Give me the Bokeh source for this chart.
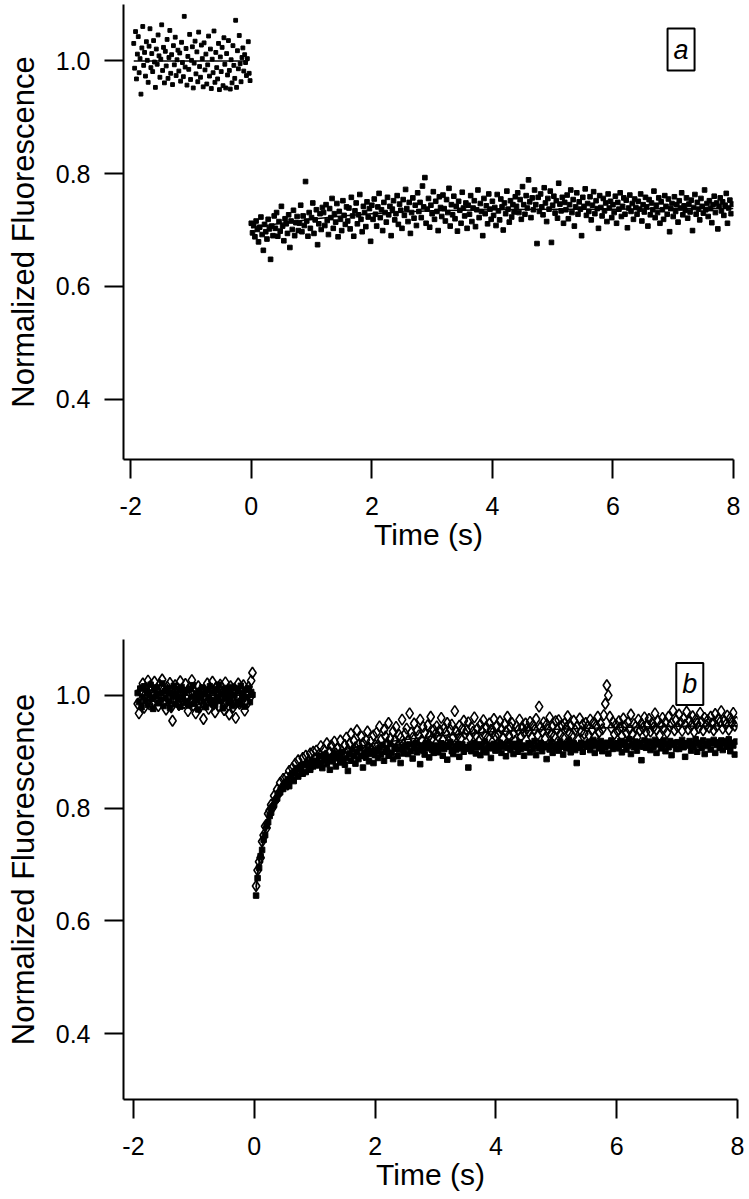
import numpy as np
from bokeh.plotting import figure
from bokeh.layouts import column
from bokeh.models import Range1d, FixedTicker, PrintfTickFormatter, Label
from bokeh.embed import file_html
from bokeh.resources import INLINE

# ---------------- data ----------------
# Panel a: pre-bleach samples (time window -1.95 .. -0.02 s)
a_pre_window = [-1.95, -0.02]
a_pre_y = [
    1.031, 0.987, 1.052, 0.968, 1.012, 1.043, 0.979, 1.004, 0.941, 1.023,
    1.061, 0.992, 1.015, 0.973, 1.034, 1.001, 0.962, 1.026, 1.057, 0.988,
    1.013, 0.981, 1.036, 0.998, 0.953, 1.021, 0.994, 1.046, 1.009, 0.971,
    1.003, 1.064, 0.983, 1.024, 0.961, 1.017, 0.991, 1.038, 0.969, 1.006,
    1.054, 0.978, 1.011, 0.958, 1.027, 0.993, 1.042, 0.974, 1.002, 1.019,
    0.982, 1.014, 0.964, 1.033, 0.997, 0.972, 1.079, 0.989, 1.022, 0.957,
    1.008, 0.985, 1.047, 0.967, 1.001, 1.025, 0.952, 0.996, 1.035, 0.977,
    1.016, 0.963, 1.051, 0.990, 0.971, 1.028, 1.004, 0.954, 1.032, 0.984,
    1.012, 0.959, 0.993, 1.044, 0.973, 1.021, 0.951, 1.003, 0.979, 1.053,
    0.962, 1.015, 0.988, 0.968, 1.031, 0.949, 1.007, 0.981, 1.024, 0.956,
    1.041, 0.994, 0.952, 1.013, 0.975, 1.036, 0.983, 0.950, 1.002, 0.961,
    1.027, 0.992, 0.969, 1.072, 0.953, 1.018, 0.986, 1.045, 0.995, 0.963,
    1.006, 1.023, 0.982, 1.011, 0.997, 0.974, 1.004, 1.034, 0.978, 0.965,
]
# Panel a: post-bleach samples (time window 0.0 .. 7.98 s)
a_post_window = [0.0, 7.98]
a_post_y = [
    0.712, 0.695, 0.708, 0.688, 0.716, 0.701, 0.679, 0.705, 0.723, 0.692, 0.664, 0.710, 0.697, 0.684, 0.719, 0.702, 0.648, 0.707, 0.690, 0.725,
    0.703, 0.731, 0.689, 0.715, 0.698, 0.742, 0.707, 0.681, 0.720, 0.711, 0.694, 0.727, 0.669, 0.716, 0.701, 0.735, 0.690, 0.713, 0.724, 0.699,
    0.712, 0.744, 0.697, 0.725, 0.708, 0.786, 0.716, 0.689, 0.731, 0.703, 0.722, 0.748, 0.694, 0.718, 0.736, 0.674, 0.711, 0.729, 0.701, 0.740,
    0.731, 0.708, 0.745, 0.717, 0.692, 0.738, 0.722, 0.756, 0.703, 0.729, 0.714, 0.747, 0.688, 0.733, 0.719, 0.699, 0.752, 0.726, 0.710, 0.741,
    0.716, 0.739, 0.702, 0.758, 0.725, 0.689, 0.734, 0.748, 0.711, 0.727, 0.763, 0.719, 0.697, 0.742, 0.731, 0.706, 0.750, 0.723, 0.738, 0.680,
    0.744, 0.719, 0.755, 0.728, 0.707, 0.741, 0.765, 0.722, 0.736, 0.699, 0.749, 0.731, 0.714, 0.758, 0.727, 0.742, 0.690, 0.737, 0.752, 0.718,
    0.729, 0.761, 0.710, 0.746, 0.735, 0.703, 0.754, 0.726, 0.772, 0.738, 0.715, 0.749, 0.694, 0.731, 0.757, 0.721, 0.744, 0.708, 0.766, 0.733,
    0.749, 0.722, 0.778, 0.741, 0.793, 0.712, 0.737, 0.756, 0.705, 0.744, 0.729, 0.768, 0.719, 0.751, 0.733, 0.699, 0.759, 0.740, 0.724, 0.762,
    0.738, 0.716, 0.754, 0.731, 0.774, 0.707, 0.745, 0.727, 0.760, 0.720, 0.742, 0.698, 0.751, 0.735, 0.712, 0.767, 0.739, 0.725, 0.748, 0.703,
    0.744, 0.728, 0.761, 0.715, 0.739, 0.752, 0.706, 0.736, 0.771, 0.722, 0.747, 0.733, 0.690, 0.756, 0.729, 0.743, 0.711, 0.764, 0.737, 0.719,
    0.751, 0.726, 0.740, 0.708, 0.763, 0.734, 0.718, 0.755, 0.741, 0.700, 0.748, 0.729, 0.769, 0.737, 0.714, 0.752, 0.723, 0.745, 0.732, 0.759,
    0.742, 0.766, 0.731, 0.754, 0.719, 0.777, 0.745, 0.728, 0.761, 0.739, 0.789, 0.750, 0.722, 0.757, 0.736, 0.771, 0.745, 0.676, 0.758, 0.733,
    0.764, 0.741, 0.727, 0.775, 0.748, 0.715, 0.756, 0.737, 0.769, 0.678, 0.744, 0.760, 0.730, 0.752, 0.721, 0.783, 0.746, 0.734, 0.758, 0.712,
    0.749, 0.736, 0.762, 0.720, 0.745, 0.771, 0.731, 0.754, 0.707, 0.741, 0.766, 0.728, 0.750, 0.737, 0.690, 0.758, 0.742, 0.773, 0.726, 0.747,
    0.733, 0.759, 0.718, 0.744, 0.768, 0.729, 0.752, 0.738, 0.703, 0.761, 0.740, 0.725, 0.756, 0.734, 0.748, 0.715, 0.764, 0.739, 0.751, 0.722,
    0.745, 0.731, 0.760, 0.712, 0.749, 0.737, 0.766, 0.724, 0.742, 0.757, 0.728, 0.753, 0.704, 0.739, 0.762, 0.733, 0.747, 0.719, 0.755, 0.740,
    0.728, 0.751, 0.737, 0.764, 0.716, 0.745, 0.732, 0.758, 0.741, 0.707, 0.754, 0.727, 0.748, 0.736, 0.769, 0.722, 0.744, 0.731, 0.757, 0.712,
    0.750, 0.736, 0.719, 0.761, 0.742, 0.728, 0.755, 0.697, 0.738, 0.747, 0.724, 0.759, 0.733, 0.745, 0.714, 0.752, 0.739, 0.766, 0.727, 0.743,
    0.735, 0.757, 0.721, 0.746, 0.732, 0.753, 0.699, 0.740, 0.763, 0.728, 0.749, 0.737, 0.718, 0.756, 0.742, 0.730, 0.771, 0.736, 0.747, 0.724,
    0.752, 0.738, 0.713, 0.745, 0.760, 0.731, 0.748, 0.702, 0.742, 0.757, 0.734, 0.750, 0.726, 0.744, 0.765, 0.712, 0.739, 0.753, 0.729, 0.746,
]
# Panel a fits
a_fit_pre_t = [-1.95, -0.05]
a_fit_pre_y = [1.0, 1.0]
a_fit_post_t = [0.0, 0.5, 1.0, 1.5, 2.0, 2.5, 3.0, 4.0, 5.0, 6.0, 7.0, 8.0]
a_fit_post_y = [0.704, 0.712, 0.719, 0.725, 0.729, 0.732, 0.734, 0.736, 0.737, 0.737, 0.738, 0.738]

# Panel b: pre-bleach (time window -1.93 .. -0.03 s)
b_pre_window = [-1.93, -0.03]
b_pre_diamond_y = [
    0.985, 0.968, 1.008, 0.992, 1.021, 0.978, 1.013, 0.996, 1.026, 0.984,
    1.017, 1.002, 0.989, 1.024, 0.995, 1.010, 0.981, 1.019, 0.999, 1.028,
    0.987, 1.006, 0.975, 1.015, 0.993, 1.022, 0.979, 0.955, 1.004, 1.018,
    0.990, 1.011, 0.983, 1.025, 0.997, 1.007, 0.986, 1.020, 0.994, 0.972,
    1.013, 0.991, 1.027, 0.982, 1.005, 0.968, 0.996, 1.016, 0.978, 1.009,
    0.987, 0.958, 1.001, 0.993, 1.021, 0.976, 1.011, 0.989, 1.024, 0.984,
    0.970, 1.014, 0.997, 0.981, 1.019, 0.992, 1.006, 0.974, 1.023, 0.988,
    1.003, 0.966, 1.016, 0.995, 0.979, 1.012, 0.960, 0.999, 1.021, 0.985,
    1.008, 0.991, 1.018, 0.973, 1.004, 0.986, 1.015, 0.996, 1.026, 1.040,
]
b_pre_square_y = [
    1.004, 0.988, 1.012, 0.979, 0.997, 1.016, 0.991, 1.008, 0.983, 1.001,
    1.019, 0.994, 0.976, 1.010, 0.998, 1.014, 0.986, 1.003, 0.992, 1.021,
    0.981, 1.007, 0.995, 1.013, 0.989, 0.978, 1.006, 0.999, 1.017, 0.984,
    1.002, 0.993, 1.011, 0.980, 1.015, 0.996, 1.005, 0.987, 1.009, 0.990,
    0.982, 1.012, 0.997, 1.018, 0.985, 1.004, 0.994, 0.975, 1.008, 0.999,
    1.014, 0.988, 1.002, 0.979, 1.010, 0.995, 1.016, 0.986, 1.006, 0.991,
    0.983, 1.011, 0.998, 1.019, 0.990, 1.003, 0.977, 1.009, 0.996, 1.013,
    0.987, 1.005, 0.993, 1.015, 0.981, 1.000, 1.012, 0.989, 1.007, 0.984,
    1.017, 0.994, 1.004, 0.980, 1.010, 0.997, 1.013, 0.988, 1.006, 1.001,
]
# Panel b: post-bleach (time window 0.03 .. 7.98 s)
b_post_window = [0.03, 7.98]
b_post_diamond_y = [
    0.662, 0.690, 0.705, 0.712, 0.741, 0.752, 0.768, 0.765, 0.790, 0.796, 0.806, 0.801, 0.822, 0.815, 0.833, 0.826, 0.845, 0.836, 0.852, 0.841,
    0.855, 0.842, 0.866, 0.852, 0.871, 0.858, 0.879, 0.862, 0.885, 0.868, 0.874, 0.889, 0.870, 0.893, 0.878, 0.884, 0.897, 0.876, 0.900, 0.887,
    0.902, 0.881, 0.896, 0.910, 0.888, 0.904, 0.893, 0.915, 0.886, 0.899, 0.911, 0.892, 0.918, 0.897, 0.905, 0.889, 0.920, 0.901, 0.894, 0.912,
    0.925, 0.903, 0.914, 0.932, 0.897, 0.919, 0.908, 0.938, 0.912, 0.901, 0.927, 0.915, 0.894, 0.921, 0.936, 0.907, 0.918, 0.903, 0.929, 0.912,
    0.934, 0.912, 0.945, 0.921, 0.903, 0.939, 0.927, 0.915, 0.951, 0.923, 0.908, 0.936, 0.919, 0.944, 0.910, 0.930, 0.925, 0.957, 0.913, 0.932,
    0.941, 0.919, 0.968, 0.934, 0.925, 0.950, 0.912, 0.938, 0.929, 0.957, 0.921, 0.944, 0.933, 0.916, 0.947, 0.928, 0.962, 0.924, 0.939, 0.931,
    0.945, 0.927, 0.938, 0.960, 0.921, 0.942, 0.934, 0.951, 0.918, 0.939, 0.948, 0.926, 0.972, 0.936, 0.929, 0.946, 0.923, 0.941, 0.955, 0.932,
    0.938, 0.952, 0.926, 0.944, 0.935, 0.961, 0.929, 0.941, 0.919, 0.948, 0.937, 0.956, 0.930, 0.943, 0.925, 0.950, 0.939, 0.933, 0.958, 0.928,
    0.946, 0.931, 0.954, 0.940, 0.924, 0.949, 0.936, 0.962, 0.929, 0.943, 0.951, 0.933, 0.919, 0.945, 0.938, 0.957, 0.927, 0.942, 0.934, 0.950,
    0.941, 0.935, 0.953, 0.926, 0.947, 0.939, 0.958, 0.930, 0.980, 0.944, 0.936, 0.952, 0.923, 0.948, 0.940, 0.961, 0.932, 0.945, 0.928, 0.954,
    0.939, 0.956, 0.931, 0.947, 0.925, 0.950, 0.942, 0.963, 0.934, 0.946, 0.929, 0.955, 0.938, 0.944, 0.921, 0.959, 0.936, 0.948, 0.932, 0.951,
    0.944, 0.930, 0.957, 0.938, 0.951, 0.926, 0.946, 0.962, 0.935, 0.949, 0.940, 0.965, 0.985, 1.018, 1.000, 0.962, 0.942, 0.953, 0.931, 0.948,
    0.937, 0.954, 0.943, 0.928, 0.959, 0.946, 0.933, 0.952, 0.940, 0.966, 0.931, 0.949, 0.944, 0.925, 0.957, 0.938, 0.950, 0.942, 0.961, 0.935,
    0.947, 0.958, 0.936, 0.951, 0.943, 0.968, 0.939, 0.955, 0.929, 0.948, 0.960, 0.941, 0.953, 0.934, 0.962, 0.945, 0.950, 0.973, 0.938, 0.956,
    0.944, 0.966, 0.952, 0.937, 0.959, 0.948, 0.971, 0.940, 0.955, 0.946, 0.963, 0.935, 0.957, 0.950, 0.942, 0.969, 0.953, 0.938, 0.960, 0.947,
    0.956, 0.943, 0.962, 0.950, 0.938, 0.967, 0.945, 0.958, 0.952, 0.972, 0.941, 0.955, 0.948, 0.964, 0.939, 0.960, 0.951, 0.969, 0.946, 0.953,
]
b_post_square_y = [
    0.645, 0.676, 0.694, 0.715, 0.726, 0.744, 0.752, 0.769, 0.775, 0.786, 0.792, 0.803, 0.806, 0.814, 0.817, 0.826, 0.828, 0.835, 0.834, 0.842,
    0.846, 0.851, 0.839, 0.858, 0.862, 0.848, 0.866, 0.871, 0.856, 0.869, 0.875, 0.861, 0.878, 0.864, 0.880, 0.872, 0.868, 0.884, 0.874, 0.879,
    0.884, 0.876, 0.893, 0.880, 0.871, 0.889, 0.895, 0.878, 0.886, 0.868, 0.891, 0.883, 0.897, 0.874, 0.889, 0.893, 0.881, 0.899, 0.886, 0.877,
    0.889, 0.866, 0.897, 0.884, 0.903, 0.892, 0.879, 0.899, 0.887, 0.906, 0.893, 0.872, 0.898, 0.890, 0.905, 0.883, 0.896, 0.901, 0.880, 0.894,
    0.902, 0.889, 0.907, 0.895, 0.911, 0.884, 0.900, 0.906, 0.893, 0.914, 0.898, 0.887, 0.905, 0.909, 0.892, 0.903, 0.880, 0.908, 0.897, 0.912,
    0.909, 0.896, 0.913, 0.901, 0.888, 0.907, 0.915, 0.899, 0.904, 0.878, 0.911, 0.902, 0.895, 0.916, 0.906, 0.890, 0.912, 0.903, 0.898, 0.909,
    0.911, 0.899, 0.907, 0.915, 0.893, 0.905, 0.912, 0.886, 0.909, 0.917, 0.901, 0.896, 0.910, 0.904, 0.914, 0.891, 0.906, 0.913, 0.900, 0.908,
    0.905, 0.872, 0.912, 0.901, 0.909, 0.916, 0.897, 0.908, 0.913, 0.894, 0.910, 0.903, 0.918, 0.899, 0.907, 0.912, 0.889, 0.906, 0.914, 0.902,
    0.911, 0.904, 0.916, 0.898, 0.909, 0.913, 0.892, 0.907, 0.918, 0.903, 0.910, 0.896, 0.914, 0.908, 0.900, 0.917, 0.905, 0.911, 0.893, 0.909,
    0.907, 0.915, 0.899, 0.912, 0.905, 0.919, 0.894, 0.910, 0.906, 0.916, 0.901, 0.913, 0.908, 0.887, 0.911, 0.904, 0.917, 0.898, 0.910, 0.906,
    0.913, 0.902, 0.918, 0.909, 0.895, 0.914, 0.906, 0.911, 0.920, 0.899, 0.908, 0.915, 0.903, 0.880, 0.912, 0.907, 0.916, 0.900, 0.910, 0.914,
    0.909, 0.917, 0.903, 0.912, 0.921, 0.898, 0.910, 0.915, 0.906, 0.919, 0.901, 0.913, 0.908, 0.916, 0.897, 0.911, 0.920, 0.905, 0.914, 0.909,
    0.915, 0.906, 0.919, 0.899, 0.912, 0.917, 0.904, 0.910, 0.922, 0.896, 0.913, 0.908, 0.918, 0.902, 0.911, 0.916, 0.885, 0.909, 0.920, 0.907,
    0.912, 0.918, 0.903, 0.915, 0.909, 0.921, 0.898, 0.913, 0.917, 0.906, 0.911, 0.920, 0.901, 0.914, 0.908, 0.919, 0.894, 0.912, 0.916, 0.905,
    0.917, 0.905, 0.913, 0.921, 0.908, 0.891, 0.915, 0.911, 0.919, 0.902, 0.914, 0.909, 0.922, 0.900, 0.916, 0.912, 0.907, 0.920, 0.896, 0.913,
    0.910, 0.918, 0.904, 0.915, 0.921, 0.898, 0.912, 0.917, 0.907, 0.920, 0.903, 0.914, 0.919, 0.909, 0.922, 0.901, 0.916, 0.911, 0.895, 0.918,
]
# Panel b fits
b_fit_pre_t = [-1.93, -0.03]
b_fit_pre_y = [1.0, 1.0]
b_fit_t = [0.03, 0.05, 0.1, 0.15, 0.2, 0.3, 0.4, 0.5, 0.7, 1.0, 1.5, 2.0, 3.0, 4.0, 5.0, 6.0, 7.0, 8.0]
b_fit_diamond_y = [0.660, 0.683, 0.717, 0.745, 0.768, 0.803, 0.827, 0.845, 0.867, 0.886, 0.904, 0.915, 0.928, 0.936, 0.940, 0.943, 0.945, 0.946]
b_fit_square_y = [0.655, 0.678, 0.713, 0.741, 0.763, 0.797, 0.820, 0.838, 0.858, 0.876, 0.891, 0.899, 0.906, 0.909, 0.911, 0.913, 0.914, 0.915]

x_ticks = [-2, 0, 2, 4, 6, 8]
y_ticks = [0.4, 0.6, 0.8, 1.0]
x_label = "Time (s)"
y_label = "Normalized Fluorescence"
panel_tags = ["a", "b"]

FONT = "Liberation Sans"


def times(window, values):
    return np.linspace(window[0], window[1], len(values))


def style(p):
    p.xgrid.visible = False
    p.ygrid.visible = False
    p.outline_line_color = None
    p.background_fill_color = "white"
    p.border_fill_color = "white"
    p.xaxis.ticker = FixedTicker(ticks=x_ticks)
    p.yaxis.ticker = FixedTicker(ticks=y_ticks)
    p.xaxis.formatter = PrintfTickFormatter(format="%d")
    p.yaxis.formatter = PrintfTickFormatter(format="%.1f")
    for ax in (p.xaxis[0], p.yaxis[0]):
        ax.axis_line_width = 2
        ax.axis_line_color = "black"
        ax.major_tick_line_width = 2
        ax.major_tick_line_color = "black"
        ax.major_tick_in = 0
        ax.major_tick_out = 19
        ax.minor_tick_line_color = None
        ax.major_label_text_font = FONT
        ax.major_label_text_font_size = "25px"
        ax.major_label_text_color = "black"
        ax.axis_label_text_font = FONT
        ax.axis_label_text_font_style = "normal"
        ax.axis_label_text_color = "black"
    p.xaxis.axis_label = x_label
    p.yaxis.axis_label = y_label
    p.xaxis.axis_label_text_font_size = "30px"
    p.yaxis.axis_label_text_font_size = "31px"
    p.xaxis.major_label_standoff = 18
    p.yaxis.major_label_standoff = 14
    p.xaxis.axis_label_standoff = 0
    p.yaxis.axis_label_standoff = 12


def tag(p, x, text):
    p.add_layout(Label(x=x, y=1.02, text=text, text_align="center", text_baseline="middle",
                       text_font=FONT, text_font_size="27px", text_font_style="italic",
                       text_color="black", border_line_color="black", border_line_width=2,
                       background_fill_color="white", padding=6))


# ---------------- panel a ----------------
pa = figure(frame_width=610, frame_height=455, x_range=Range1d(-2.12, 8.0), y_range=Range1d(0.293, 1.1),
            min_border_left=120, min_border_right=12, min_border_top=4, min_border_bottom=109,
            output_backend="svg", toolbar_location=None)
style(pa)
pa.line(a_fit_pre_t, a_fit_pre_y, line_color="black", line_width=1.5)
pa.line(a_fit_post_t, a_fit_post_y, line_color="black", line_width=1.5)
pa.scatter(times(a_pre_window, a_pre_y), a_pre_y, marker="square", size=3.8, color="black")
pa.scatter(times(a_post_window, a_post_y), a_post_y, marker="square", size=4.6, color="black")
tag(pa, 7.13, panel_tags[0])

# ---------------- panel b ----------------
pb = figure(frame_width=614, frame_height=460, x_range=Range1d(-2.165, 8.0), y_range=Range1d(0.2835, 1.099),
            min_border_left=123, min_border_right=8, min_border_top=71, min_border_bottom=92,
            output_backend="svg", toolbar_location=None)
style(pb)
pb.scatter(times(b_pre_window, b_pre_diamond_y), b_pre_diamond_y, marker="diamond", size=11,
           fill_color=None, line_color="black", line_width=1.6)
pb.scatter(times(b_post_window, b_post_diamond_y), b_post_diamond_y, marker="diamond", size=11,
           fill_color=None, line_color="black", line_width=1.6)
pb.scatter(times(b_pre_window, b_pre_square_y), b_pre_square_y, marker="square", size=5.5, color="black")
pb.scatter(times(b_post_window, b_post_square_y), b_post_square_y, marker="square", size=5.5, color="black")
pb.line(b_fit_pre_t, b_fit_pre_y, line_color="black", line_width=1.5)
pb.line(b_fit_t, b_fit_diamond_y, line_color="black", line_width=1.5)
pb.line(b_fit_t, b_fit_square_y, line_color="black", line_width=1.5)
tag(pb, 7.21, panel_tags[1])

layout = column(pa, pb)
open("out.html", "w").write(file_html(layout, INLINE))
